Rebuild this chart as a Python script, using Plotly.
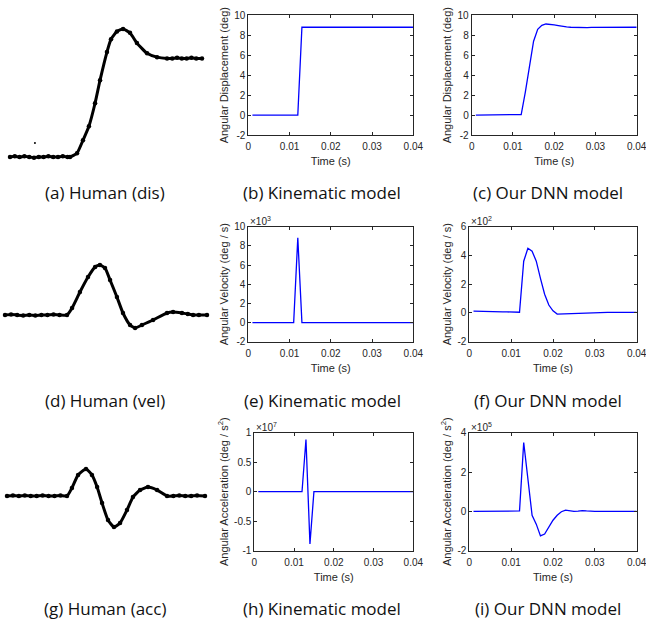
import plotly.graph_objects as go

W, H = 646, 624

# ---------------- Human (hand-drawn) traces, normalized units ----------------
dis_t = [0.0, 0.025, 0.05, 0.075, 0.10, 0.125, 0.15, 0.175, 0.20, 0.225, 0.25, 0.275, 0.30, 0.3125,
         0.349, 0.380, 0.411, 0.443, 0.469, 0.505, 0.526, 0.557, 0.589, 0.625, 0.661, 0.714, 0.766,
         0.818, 0.845, 0.87, 0.895, 0.92, 0.945, 0.97, 1.0]
dis_v = [0, 0.005, 0, 0.005, 0, -0.005, 0, 0, 0.005, 0, 0, 0.005, 0, 0,
         0.03, 0.13, 0.24, 0.42, 0.60, 0.82, 0.92, 0.98, 1.0, 0.97, 0.89, 0.81, 0.78,
         0.77, 0.77, 0.775, 0.77, 0.77, 0.775, 0.77, 0.77]
speck_t = [0.130]
speck_v = [0.109]

vel_t = [0.0, 0.03, 0.06, 0.09, 0.12, 0.15, 0.18, 0.21, 0.24, 0.27, 0.307, 0.332, 0.371, 0.411, 0.446,
         0.470, 0.495, 0.520, 0.554, 0.584, 0.619, 0.644, 0.678, 0.733, 0.802, 0.832, 0.876, 0.905,
         0.931, 0.96, 1.0]
vel_v = [0, 0.01, 0, -0.01, 0, -0.01, 0, 0, 0.01, 0, 0, 0.14, 0.46, 0.76, 0.96,
         1.0, 0.94, 0.70, 0.36, 0.04, -0.2, -0.26, -0.2, -0.1, 0.04, 0.06, 0.04, 0.02,
         0, 0, 0]

acc_t = [0.0, 0.03, 0.06, 0.09, 0.12, 0.15, 0.18, 0.21, 0.24, 0.27, 0.303, 0.328, 0.359, 0.399, 0.429,
         0.455, 0.480, 0.510, 0.540, 0.571, 0.606, 0.636, 0.672, 0.712, 0.758, 0.808, 0.84, 0.87,
         0.90, 0.93, 0.96, 1.0]
acc_v = [0, 0.02, 0, 0.02, 0, 0, 0.02, 0, 0, 0.02, 0, 0.30, 0.78, 1.0, 0.78,
         0.33, -0.26, -0.89, -1.15, -1.0, -0.52, -0.04, 0.22, 0.33, 0.22, 0, 0, 0.02,
         0, 0, 0.02, 0]

# ---------------- Model traces ----------------
time_s = [0.001, 0.002, 0.003, 0.004, 0.005, 0.006, 0.007, 0.008, 0.009, 0.010,
          0.011, 0.012, 0.013, 0.014, 0.015, 0.016, 0.017, 0.018, 0.019, 0.020,
          0.021, 0.022, 0.023, 0.024, 0.025, 0.026, 0.027, 0.028, 0.029, 0.030,
          0.031, 0.032, 0.033, 0.034, 0.035, 0.036, 0.037, 0.038, 0.039, 0.040]

kin_dis = [0, 0, 0, 0, 0, 0, 0, 0, 0, 0,
           0, 0, 8.8, 8.8, 8.8, 8.8, 8.8, 8.8, 8.8, 8.8,
           8.8, 8.8, 8.8, 8.8, 8.8, 8.8, 8.8, 8.8, 8.8, 8.8,
           8.8, 8.8, 8.8, 8.8, 8.8, 8.8, 8.8, 8.8, 8.8, 8.8]
dnn_dis = [0.0, 0.01, 0.01, 0.02, 0.02, 0.03, 0.03, 0.03, 0.04, 0.04,
           0.05, 0.05, 2.3, 5.1, 7.4, 8.6, 9.0, 9.13, 9.12, 9.05,
           8.97, 8.88, 8.83, 8.8, 8.78, 8.77, 8.77, 8.77, 8.78, 8.78,
           8.79, 8.79, 8.8, 8.8, 8.8, 8.8, 8.8, 8.8, 8.8, 8.8]

# velocity, in units of 10^3 (kinematic) and 10^2 (DNN) deg/s
kin_vel = [0, 0, 0, 0, 0, 0, 0, 0, 0, 0,
           0, 8.85, 0, 0, 0, 0, 0, 0, 0, 0,
           0, 0, 0, 0, 0, 0, 0, 0, 0, 0,
           0, 0, 0, 0, 0, 0, 0, 0, 0, 0]
dnn_vel = [0.13, 0.13, 0.12, 0.12, 0.11, 0.10, 0.09, 0.08, 0.07, 0.06,
           0.05, 0.05, 3.6, 4.5, 4.3, 3.6, 2.4, 1.3, 0.55, 0.15,
           -0.08, -0.07, -0.05, -0.03, -0.01, 0.01, 0.03, 0.04, 0.04, 0.04,
           0.04, 0.04, 0.04, 0.04, 0.04, 0.04, 0.04, 0.04, 0.04, 0.04]

# acceleration, in units of 10^7 (kinematic) and 10^5 (DNN) deg/s^2
kin_acc = [0, 0, 0, 0, 0, 0, 0, 0, 0, 0,
           0, 0, 0.885, -0.885, 0, 0, 0, 0, 0, 0,
           0, 0, 0, 0, 0, 0, 0, 0, 0, 0,
           0, 0, 0, 0, 0, 0, 0, 0, 0, 0]
dnn_acc = [0, 0, 0, 0, 0, 0, 0, 0, 0, 0,
           0, 0.02, 3.5, 1.5, -0.2, -0.65, -1.25, -1.15, -0.8, -0.45,
           -0.2, -0.02, 0.06, 0.03, 0.0, 0.01, 0.04, 0.02, 0, 0,
           0, 0, 0, 0, 0, 0, 0, 0, 0, 0]

x_ticks = [0, 0.01, 0.02, 0.03, 0.04]
x_ticklabels = ["0", "0.01", "0.02", "0.03", "0.04"]
dis_yticks = [-2, 0, 2, 4, 6, 8, 10]
dis_yticklabels = ["-2", "0", "2", "4", "6", "8", "10"]
vel_kin_yticks = [-2, 0, 2, 4, 6, 8, 10]
vel_kin_yticklabels = ["-2", "0", "2", "4", "6", "8", "10"]
vel_dnn_yticks = [-2, 0, 2, 4, 6]
vel_dnn_yticklabels = ["-2", "0", "2", "4", "6"]
acc_kin_yticks = [-1, -0.5, 0, 0.5, 1]
acc_kin_yticklabels = ["-1", "-0.5", "0", "0.5", "1"]
acc_dnn_yticks = [-2, 0, 2, 4]
acc_dnn_yticklabels = ["-2", "0", "2", "4"]

captions = ["(a) Human (dis)", "(b) Kinematic model", "(c) Our DNN model",
            "(d) Human (vel)", "(e) Kinematic model", "(f) Our DNN model",
            "(g) Human (acc)", "(h) Kinematic model", "(i) Our DNN model"]

# ---------------- figure ----------------
fig = go.Figure()

def px_x(a, b):
    return [a / W, b / W]

def px_y(top, bottom):
    return [1 - bottom / H, 1 - top / H]

AX = "#262626"
TICKF = dict(family="Liberation Sans, Arial, sans-serif", size=10, color=AX)
TITLEF = dict(family="Liberation Sans, Arial, sans-serif", size=11, color=AX)

def human(idx, t, v, xdom, ydom, xr, yr):
    n = "" if idx == 1 else str(idx)
    fig.add_trace(go.Scatter(x=t, y=v, mode="lines+markers", xaxis="x" + n, yaxis="y" + n,
                             line=dict(color="black", width=3.0, shape="spline", smoothing=0.5),
                             marker=dict(color="black", size=4.5), showlegend=False,
                             hoverinfo="skip"))
    fig.layout["xaxis" + n] = dict(domain=xdom, range=xr, visible=False, anchor="y" + n)
    fig.layout["yaxis" + n] = dict(domain=ydom, range=yr, visible=False, anchor="x" + n)

def model(idx, y, xdom, ydom, yr, yt, ytl, ytitle, expo=None):
    n = str(idx)
    fig.add_trace(go.Scatter(x=time_s, y=y, mode="lines", xaxis="x" + n, yaxis="y" + n,
                             line=dict(color="#0000ff", width=1.3), showlegend=False,
                             hoverinfo="skip"))
    common = dict(showline=True, linecolor=AX, linewidth=1, mirror="ticks", ticks="inside",
                  ticklen=3, tickcolor=AX, tickwidth=1, showgrid=False, zeroline=False,
                  tickfont=TICKF, automargin=False, ticklabeloverflow="allow")
    fig.layout["xaxis" + n] = dict(domain=xdom, range=[0, 0.04], tickvals=x_ticks,
                                   ticktext=x_ticklabels, anchor="y" + n, ticklabelstandoff=2,
                                   title=dict(text="Time (s)", font=TITLEF, standoff=6), **common)
    fig.layout["yaxis" + n] = dict(domain=ydom, range=yr, tickvals=yt, ticktext=ytl,
                                   anchor="x" + n,
                                   title=dict(text=ytitle, font=TITLEF, standoff=3), **common)
    if expo:
        fig.add_annotation(text=expo, xref="x" + n + " domain", yref="y" + n + " domain",
                           x=0.0, y=1.0, xanchor="left", yanchor="bottom", showarrow=False,
                           font=dict(family="Liberation Sans, Arial, sans-serif", size=10, color=AX),
                           xshift=0, yshift=-2)

# row 1
human(1, dis_t, dis_v, px_x(0, 215), px_y(15, 170), [-0.0521, 1.0677], [-0.1016, 1.1094])
fig.add_trace(go.Scatter(x=speck_t, y=speck_v, mode="markers", xaxis="x", yaxis="y",
                         marker=dict(color="black", size=2), showlegend=False, hoverinfo="skip"))
model(2, kin_dis, px_x(248.3, 413.3), px_y(15.3, 135), [-2, 10], dis_yticks, dis_yticklabels,
      "Angular Displacement (deg)")
model(3, dnn_dis, px_x(471.7, 636.7), px_y(15.3, 135), [-2, 10], dis_yticks, dis_yticklabels,
      "Angular Displacement (deg)")
# row 2
human(4, vel_t, vel_v, px_x(0, 215), px_y(240, 360), [-0.0248, 1.0396], [-0.9, 1.5])
model(5, kin_vel, px_x(248.3, 413.3), px_y(226.7, 341.7), [-2, 10], vel_kin_yticks,
      vel_kin_yticklabels, "Angular Velocity (deg / s)", "×10<sup>3</sup>")
model(6, dnn_vel, px_x(469.3, 636.7), px_y(226.7, 341.7), [-2, 6], vel_dnn_yticks,
      vel_dnn_yticklabels, "Angular Velocity (deg / s)", "×10<sup>2</sup>")
# row 3
human(7, acc_t, acc_v, px_x(0, 215), px_y(450, 550), [-0.0354, 1.0505], [-2.0, 1.7037])
model(8, kin_acc, px_x(254.3, 413.3), px_y(432.7, 550.7), [-1, 1], acc_kin_yticks,
      acc_kin_yticklabels, "Angular Acceleration (deg / s<sup>2</sup>)", "×10<sup>7</sup>")
model(9, dnn_acc, px_x(469.3, 636.7), px_y(432.7, 550.7), [-2, 4], acc_dnn_yticks,
      acc_dnn_yticklabels, "Angular Acceleration (deg / s<sup>2</sup>)", "×10<sup>5</sup>")

# captions
cap_x = [105, 322, 548]
cap_y = [192, 400, 608]
for i, c in enumerate(captions):
    fig.add_annotation(text=c, xref="paper", yref="paper", x=cap_x[i % 3] / W,
                       y=1 - cap_y[i // 3] / H, xanchor="center", yanchor="middle",
                       showarrow=False, font=dict(family="Open Sans, Noto Sans, sans-serif",
                                                  size=17, color="#111111"))

fig.update_layout(width=W, height=H, margin=dict(l=0, r=0, t=0, b=0),
                  paper_bgcolor="white", plot_bgcolor="white", showlegend=False)

fig.write_html("out.html")
